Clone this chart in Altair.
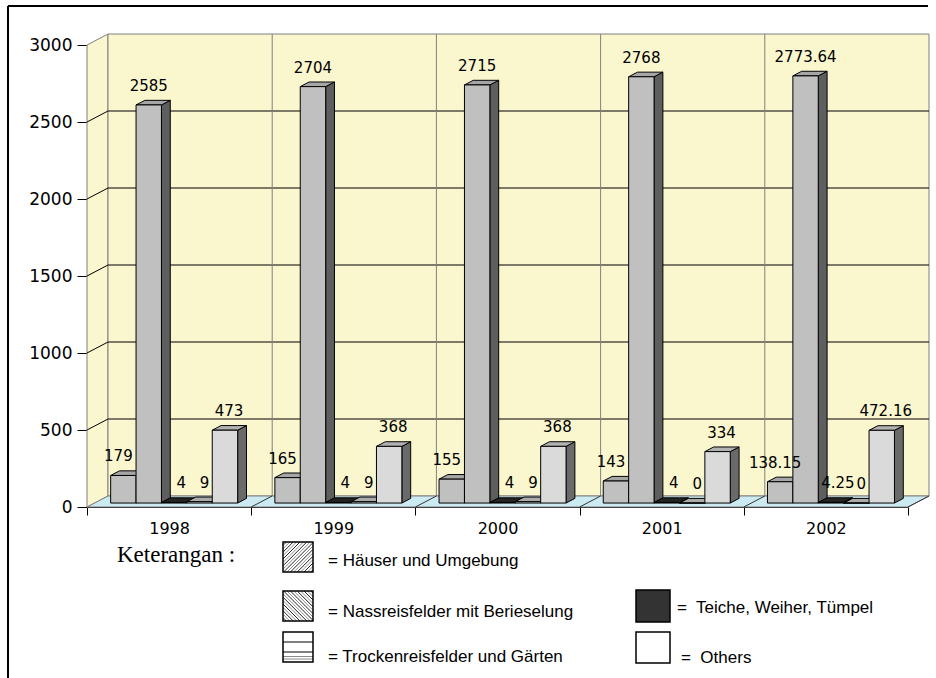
import json
import altair as alt
import pandas as pd

# ---------------------------------------------------------------- data
years = ["1998", "1999", "2000", "2001", "2002"]
series = [
    "Häuser und Umgebung",
    "Nassreisfelder mit Berieselung",
    "Teiche, Weiher, Tümpel",
    "Trockenreisfelder und Gärten",
    "Others",
]
haeuser = [179, 165, 155, 143, 138.15]
nassreis = [2585, 2704, 2715, 2768, 2773.64]
teiche = [4, 4, 4, 4, 4.25]
trocken = [9, 9, 9, 0, 0]
others = [473, 368, 368, 334, 472.16]
y_ticks = [0, 500, 1000, 1500, 2000, 2500, 3000]
values = [haeuser, nassreis, teiche, trocken, others]

# ---------------------------------------------------------------- styling
front_col = ["#C0C0C0", "#C0C0C0", "#333333", "#C6C6C6", "#DADADA"]
top_col = ["#A6A6A6", "#A6A6A6", "#242424", "#ABABAB", "#B2B2B2"]
side_col = ["#5E5E5E", "#5E5E5E", "#111111", "#6C6C6C", "#6A6A6A"]
label_nudge_px = [-5, 0, 7, 5, 4]
WALL = "#FAF6CE"
FLOOR = "#CCEAF1"
EDGE = "#808080"

PLOT_W, PLOT_H = 821, 462
LEFT, TOP = 87, 45
N_CAT = len(years)
Y_MAX = y_ticks[-1]
px_x = PLOT_W / N_CAT      # pixels per category
px_y = PLOT_H / Y_MAX      # pixels per unit of value


def ux(p):
    return p / px_x


def uy(p):
    return p / px_y


# depth of the box (oblique projection) and of the bars inside it
wall_dx, wall_dy = ux(21), uy(11)
bar_w = ux(25.4)
group_start = ux(16.1)
front_depth, bar_depth = 0.36, 0.42
fx, fy = wall_dx * front_depth, wall_dy * front_depth
bdx, bdy = wall_dx * bar_depth, wall_dy * bar_depth


def add_poly(rows, pid, pts, fill):
    for x, y, y2 in pts:
        rows.append({"poly": pid, "x": x, "y": y, "y2": y2, "fill": fill})


def top_face(x0, w, yt, dx, dy):
    return [(x0, yt, yt), (x0 + dx, yt, yt + dy),
            (x0 + w, yt, yt + dy), (x0 + w + dx, yt + dy, yt + dy)]


xs = alt.Scale(domain=[0, N_CAT], nice=False, zero=False)
ys = alt.Scale(domain=[0, Y_MAX], nice=False, zero=False)

x_axis = alt.Axis(
    values=list(range(N_CAT + 1)),
    labelExpr=f"{json.dumps(years)}[datum.value] || ''",
    labelOffset=px_x / 2, labelFlush=False, labelOverlap=False, labelBound=False,
    labelFont="DejaVu Sans", labelFontSize=16, labelColor="black", labelPadding=5,
    tickSize=8, tickColor="black", domainColor="black", domainWidth=1, grid=False,
    title=None,
)
y_axis = alt.Axis(
    values=y_ticks, format="d", labelFont="DejaVu Sans", labelFontSize=17, labelColor="black",
    labelPadding=5, tickSize=10, tickColor="black", domainColor="black",
    domainWidth=1, grid=False, title=None,
)


def X(field="x:Q"):
    return alt.X(field, scale=xs, axis=x_axis)


def Y(field="y:Q"):
    return alt.Y(field, scale=ys, axis=y_axis)


# ---------------------------------------------------------------- walls & floor
wall_rows = []
add_poly(wall_rows, "side", [(0, 0, Y_MAX), (wall_dx, wall_dy, Y_MAX + wall_dy)], WALL)
add_poly(wall_rows, "back", [(wall_dx, wall_dy, Y_MAX + wall_dy),
                             (N_CAT + wall_dx, wall_dy, Y_MAX + wall_dy)], WALL)
add_poly(wall_rows, "floor", top_face(0, N_CAT, 0, wall_dx, wall_dy), FLOOR)
walls_df = pd.DataFrame(wall_rows)

walls = alt.Chart(walls_df).mark_area(
    stroke=EDGE, strokeWidth=1, opacity=1, fillOpacity=1
).encode(
    x=X(), y=Y(), y2="y2:Q",
    fill=alt.Fill("fill:N", scale=None),
    detail="poly:N",
)

# ---------------------------------------------------------------- grid lines
grid_rows = []
for v in y_ticks[1:-1]:
    grid_rows.append({"x": wall_dx, "x2": N_CAT + wall_dx, "y": v + wall_dy, "y2": v + wall_dy, "c": "black"})
    grid_rows.append({"x": 0, "x2": wall_dx, "y": v, "y2": v + wall_dy, "c": "black"})
for k in range(1, N_CAT):
    grid_rows.append({"x": k + wall_dx, "x2": k + wall_dx, "y": wall_dy, "y2": Y_MAX + wall_dy, "c": EDGE})
for k in range(1, N_CAT + 1):
    grid_rows.append({"x": k, "x2": k + wall_dx, "y": 0, "y2": wall_dy, "c": "#333333"})
grid_df = pd.DataFrame(grid_rows)

grid = alt.Chart(grid_df).mark_rule(strokeWidth=1).encode(
    x=X(), x2="x2:Q", y=Y(), y2="y2:Q",
    stroke=alt.Stroke("c:N", scale=None),
)

# ---------------------------------------------------------------- bars (drawn series by series, left to right)
bar_layers = []
label_rows = []
for s, vals in enumerate(values):
    rows = []
    for c, v in enumerate(vals):
        x0 = c + group_start + s * bar_w + fx
        yb, yt = fy, fy + v
        add_poly(rows, f"{s}-{c}-side",
                 [(x0 + bar_w, yb, yt), (x0 + bar_w + bdx, yb + bdy, yt + bdy)], side_col[s])
        add_poly(rows, f"{s}-{c}-top", top_face(x0, bar_w, yt, bdx, bdy), top_col[s])
        add_poly(rows, f"{s}-{c}-front", [(x0, yb, yt), (x0 + bar_w, yb, yt)], front_col[s])
        label_rows.append({"x": x0 + bar_w / 2 + ux(label_nudge_px[s]), "y": yt,
                           "text": format(v, "g")})
    bar_layers.append(
        alt.Chart(pd.DataFrame(rows)).mark_area(
            stroke="black", strokeWidth=1, opacity=1, fillOpacity=1
        ).encode(
            x=X(), y=Y(), y2="y2:Q",
            fill=alt.Fill("fill:N", scale=None),
            detail="poly:N",
        )
    )

labels = alt.Chart(pd.DataFrame(label_rows)).mark_text(
    font="DejaVu Sans", fontSize=15, color="black", baseline="middle", align="center", dy=-19
).encode(
    x=X(), y=Y(), text="text:N",
)

# ---------------------------------------------------------------- frame and key (page pixels)
def pxl(x):
    return x - LEFT


def pyl(y):
    return y - TOP


seg_rows = [
    {"x": pxl(8), "x2": pxl(928), "y": pyl(6), "y2": pyl(6), "c": "black", "w": 2},
    {"x": pxl(8), "x2": pxl(8), "y": pyl(6), "y2": pyl(690), "c": "black", "w": 2},
]


def hatch(x, y, size, forward, step=3.4):
    out = []
    i = 0
    if forward:
        c = step
        while c < 2 * size:
            if c <= size:
                a, b = (0, c), (c, 0)
            else:
                a, b = (c - size, size), (size, c - size)
            out.append((a, b, i))
            c += step
            i += 1
    else:
        c = -size + step
        while c < size:
            if c >= 0:
                a, b = (c, 0), (size, size - c)
            else:
                a, b = (0, -c), (size + c, size)
            out.append((a, b, i))
            c += step
            i += 1
    for a, b, k in out:
        seg_rows.append({"x": pxl(x + a[0]), "x2": pxl(x + b[0]),
                         "y": pyl(y + a[1]), "y2": pyl(y + b[1]),
                         "c": "#222222" if k % 2 == 0 else "#8A8A8A", "w": 1})


ICON = 30
key_col1 = 283
key_col2 = 636
key_rows_y = [542, 591, 632]
hatch(key_col1, key_rows_y[0], ICON, True)
hatch(key_col1, key_rows_y[1], ICON, False)
for off, col in [(10, "black"), (20, "black"), (24.5, "#8A8A8A"), (27, "#8A8A8A")]:
    seg_rows.append({"x": pxl(key_col1), "x2": pxl(key_col1 + ICON),
                     "y": pyl(key_rows_y[2] + off), "y2": pyl(key_rows_y[2] + off), "c": col, "w": 1})
seg_df = pd.DataFrame(seg_rows)

segments = alt.Chart(seg_df).mark_rule().encode(
    x=alt.X("x:Q", scale=None, axis=None), x2="x2:Q",
    y=alt.Y("y:Q", scale=None, axis=None), y2="y2:Q",
    stroke=alt.Stroke("c:N", scale=None),
    strokeWidth=alt.StrokeWidth("w:Q", scale=None),
)

box_df = pd.DataFrame([
    {"x": pxl(key_col1), "x2": pxl(key_col1 + ICON), "y": pyl(key_rows_y[0]), "y2": pyl(key_rows_y[0] + ICON), "f": "transparent"},
    {"x": pxl(key_col1), "x2": pxl(key_col1 + ICON), "y": pyl(key_rows_y[1]), "y2": pyl(key_rows_y[1] + ICON), "f": "transparent"},
    {"x": pxl(key_col1), "x2": pxl(key_col1 + ICON), "y": pyl(key_rows_y[2]), "y2": pyl(key_rows_y[2] + ICON), "f": "transparent"},
    {"x": pxl(key_col2), "x2": pxl(key_col2 + 34), "y": pyl(key_rows_y[1] - 1), "y2": pyl(key_rows_y[1] + 31), "f": "#333333"},
    {"x": pxl(key_col2), "x2": pxl(key_col2 + 34), "y": pyl(key_rows_y[2]), "y2": pyl(key_rows_y[2] + 31), "f": "white"},
])
boxes = alt.Chart(box_df).mark_rect(stroke="black", strokeWidth=1.5).encode(
    x=alt.X("x:Q", scale=None, axis=None), x2="x2:Q",
    y=alt.Y("y:Q", scale=None, axis=None), y2="y2:Q",
    fill=alt.Fill("f:N", scale=None),
)

NB = "\u00a0"
key_text_df = pd.DataFrame([
    {"x": pxl(328), "y": pyl(566), "t": "= " + series[0]},
    {"x": pxl(328), "y": pyl(617), "t": "= " + series[1]},
    {"x": pxl(328), "y": pyl(662), "t": "= " + series[3]},
    {"x": pxl(677), "y": pyl(613), "t": "=" + NB + " " + series[2]},
    {"x": pxl(681), "y": pyl(663), "t": NB + "=" + NB + " " + series[4]},
])
key_text = alt.Chart(key_text_df).mark_text(
    font="Liberation Sans", fontSize=17, color="black", align="left", baseline="alphabetic"
).encode(
    x=alt.X("x:Q", scale=None, axis=None),
    y=alt.Y("y:Q", scale=None, axis=None),
    text="t:N",
)

key_title = alt.Chart(pd.DataFrame([{"x": pxl(117), "y": pyl(562), "t": "Keterangan :"}])).mark_text(
    font="Liberation Serif", fontSize=23, color="black", align="left", baseline="alphabetic"
).encode(
    x=alt.X("x:Q", scale=None, axis=None),
    y=alt.Y("y:Q", scale=None, axis=None),
    text="t:N",
)

chart = alt.layer(
    walls, grid, *bar_layers, labels, segments, boxes, key_text, key_title
).properties(
    width=PLOT_W,
    height=PLOT_H,
    padding={"left": LEFT, "top": TOP, "right": 936 - LEFT - PLOT_W, "bottom": 678 - TOP - PLOT_H},
    autosize=alt.AutoSizeParams(type="none"),
    background="white",
).configure_view(stroke=None)

chart.save("out.html", embed_options={"renderer": "svg", "actions": False})
